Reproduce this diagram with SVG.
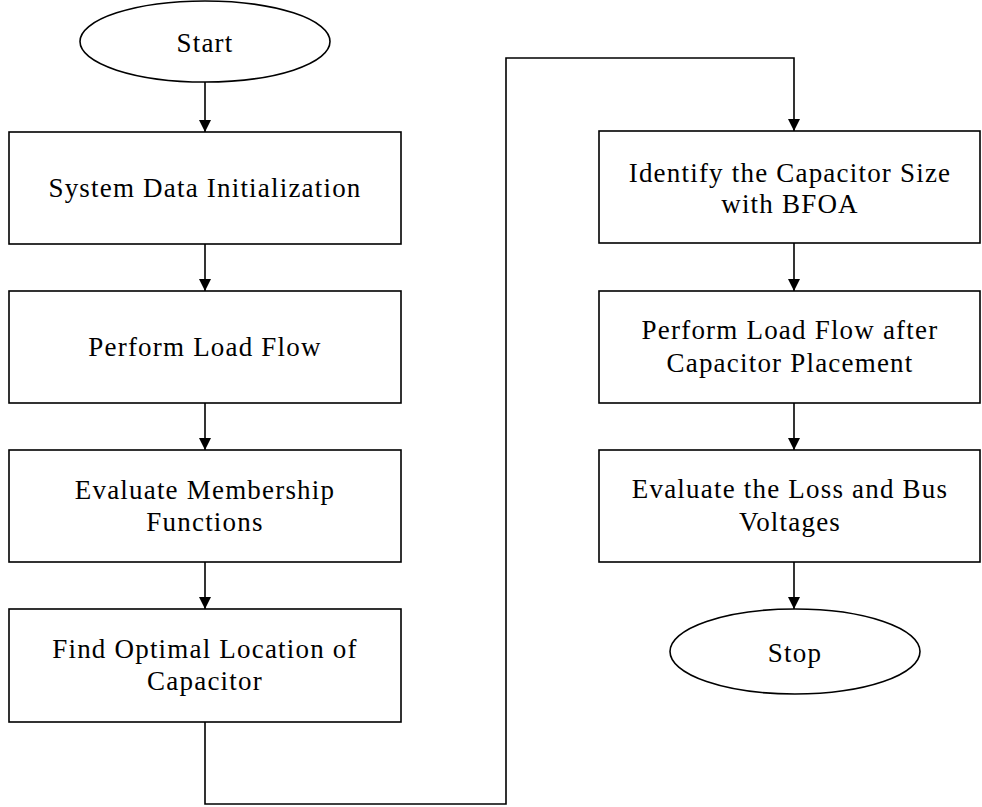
<svg xmlns="http://www.w3.org/2000/svg" width="982" height="807" viewBox="0 0 982 807">
<style>
.n{fill:#fff;stroke:#000;stroke-width:1.6}
.t{font-family:"Liberation Serif","Times New Roman",serif;font-size:27px;letter-spacing:1.2px;text-anchor:middle;fill:#000}
.c{fill:none;stroke:#000;stroke-width:1.6}
</style>
<defs>
<marker id="ah" markerWidth="12" markerHeight="12" refX="12" refY="6" orient="auto" markerUnits="userSpaceOnUse">
<path d="M0,0 L12,6 L0,12 Z" fill="#000"/>
</marker>
</defs>
<rect width="982" height="807" fill="#fff"/>
<g id="connectors">
<line class="c" x1="205" y1="82" x2="205" y2="132" marker-end="url(#ah)"/>
<line class="c" x1="205" y1="244" x2="205" y2="291" marker-end="url(#ah)"/>
<line class="c" x1="205" y1="403" x2="205" y2="450" marker-end="url(#ah)"/>
<line class="c" x1="205" y1="562" x2="205" y2="609" marker-end="url(#ah)"/>
<polyline class="c" points="205,722 205,804 506,804 506,58 794,58 794,131" marker-end="url(#ah)"/>
<line class="c" x1="794" y1="243" x2="794" y2="291" marker-end="url(#ah)"/>
<line class="c" x1="794" y1="403" x2="794" y2="450" marker-end="url(#ah)"/>
<line class="c" x1="794" y1="562" x2="794" y2="609" marker-end="url(#ah)"/>
</g>
<g id="start">
<ellipse class="n" cx="205" cy="41.5" rx="125" ry="40.5"/>
<text class="t" x="205" y="52">Start</text>
</g>
<g id="init">
<rect class="n" x="9" y="132" width="392" height="112"/>
<text class="t" x="205" y="197">System Data Initialization</text>
</g>
<g id="loadflow">
<rect class="n" x="9" y="291" width="392" height="112"/>
<text class="t" x="205" y="356">Perform Load Flow</text>
</g>
<g id="membership">
<rect class="n" x="9" y="450" width="392" height="112"/>
<text class="t" x="205" y="499">Evaluate Membership</text>
<text class="t" x="205" y="531">Functions</text>
</g>
<g id="location">
<rect class="n" x="9" y="609" width="392" height="113"/>
<text class="t" x="205" y="658">Find Optimal Location of</text>
<text class="t" x="205" y="690">Capacitor</text>
</g>
<g id="size">
<rect class="n" x="599" y="131" width="381" height="112"/>
<text class="t" x="790" y="182">Identify the Capacitor Size</text>
<text class="t" x="790" y="213">with BFOA</text>
</g>
<g id="loadflow2">
<rect class="n" x="599" y="291" width="381" height="112"/>
<text class="t" x="790" y="339">Perform Load Flow after</text>
<text class="t" x="790" y="372">Capacitor Placement</text>
</g>
<g id="evaluate">
<rect class="n" x="599" y="450" width="381" height="112"/>
<text class="t" x="790" y="498">Evaluate the Loss and Bus</text>
<text class="t" x="790" y="531">Voltages</text>
</g>
<g id="stop">
<ellipse class="n" cx="795" cy="651.5" rx="125" ry="42.5"/>
<text class="t" x="795" y="662">Stop</text>
</g>
</svg>
